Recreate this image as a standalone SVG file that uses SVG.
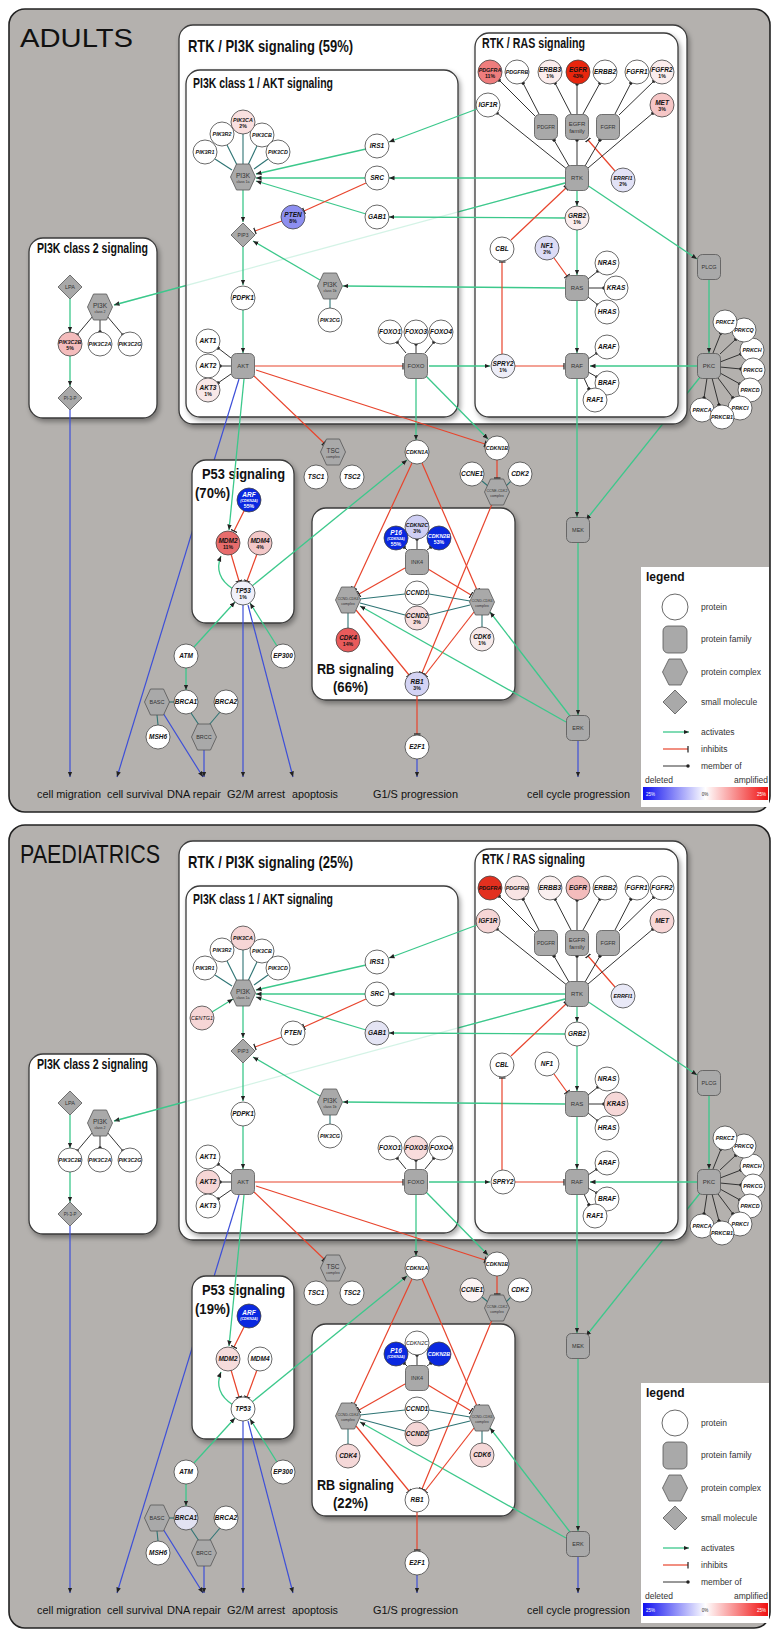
<svg xmlns="http://www.w3.org/2000/svg" width="772" height="1632" viewBox="0 0 772 1632">
<defs>
<style>
text{font-family:"Liberation Sans",Arial,Helvetica,sans-serif}
.g,.r,.b,.k,.t{fill:none;stroke-width:1.3}
.g{stroke:#3cc88b}
.r{stroke:#e8442c;stroke-width:1.2}
.b{stroke:#3d4fd8;stroke-width:1.2}
.k{stroke:#333;stroke-width:1}
.t{stroke:#2e7474;stroke-width:1.1}
.a{marker-end:url(#arr)}
.i{marker-end:url(#bar)}
.m{marker-end:url(#dot)}
.panel{fill:#b4b1ae;stroke:#222;stroke-width:1.6}
.bx{fill:#fff;stroke:#3a3a3a;stroke-width:1.3}
.c{fill:#fff;stroke:#444;stroke-width:.8}
.f{fill:#a9a9a9;stroke:#555;stroke-width:.8}
.n{font-size:6.5px;font-weight:bold;font-style:italic;text-anchor:middle;fill:#111}
.s{font-size:5.4px}
.pc{font-size:5.2px;font-weight:bold;text-anchor:middle;fill:#111}
.fl{font-size:6px;text-anchor:middle;fill:#333}
.xs{font-size:3.6px}
.wt{fill:#fff}
.h1{font-size:17px;font-weight:bold;fill:#111}
.h3{font-size:15px;font-weight:bold;fill:#111}
.h2{font-size:14px;font-weight:bold;fill:#111}
.out{font-size:11.5px;fill:#111}
.lg{font-size:8.5px;fill:#333}
.big{font-size:26px;fill:#111}
</style>
<marker id="arr" viewBox="0 0 6 6" refX="6" refY="3" markerWidth="5.5" markerHeight="5.5" orient="auto" markerUnits="userSpaceOnUse"><path d="M0,0.5L6,3L0,5.5z" fill="#222"/></marker>
<marker id="bar" viewBox="0 0 2 8" refX="1" refY="4" markerWidth="2" markerHeight="7" orient="auto" markerUnits="userSpaceOnUse"><path d="M1,0V8" stroke="#222" stroke-width="1.4"/></marker>
<marker id="dot" viewBox="0 0 4 4" refX="2" refY="2" markerWidth="3.5" markerHeight="3.5" orient="auto" markerUnits="userSpaceOnUse"><circle cx="2" cy="2" r="2" fill="#222"/></marker>
<filter id="sh" x="-5%" y="-5%" width="115%" height="115%"><feDropShadow dx="2" dy="3" stdDeviation="2.5" flood-color="#000" flood-opacity="0.35"/></filter>
<linearGradient id="cb"><stop offset="0" stop-color="#1010f0"/><stop offset=".5" stop-color="#fff"/><stop offset="1" stop-color="#f01010"/></linearGradient>
<g id="L0"><path class="g a" d="M701,376L586,520"/></g>
<g id="L1">
<rect class="bx" x="179" y="25" width="508" height="399" rx="14" filter="url(#sh)"/>
<rect class="bx" x="475" y="33" width="203" height="384" rx="14" filter="url(#sh)"/>
<rect class="bx" x="29" y="238" width="128" height="180" rx="14" filter="url(#sh)"/>
</g>
<g id="L2"><path class="g a" d="M565,183L114,305"/></g>
<g id="L3"><rect class="bx" x="186" y="70" width="272" height="347" rx="14" filter="url(#sh)"/><path d="M565,183L114,305" fill="none" stroke="#3cc88b" stroke-width="1.3" stroke-opacity=".22"/></g>
<g id="L4"><path class="b a" d="M239,379L117,777"/></g>
<g id="L5">
<rect class="bx" x="192" y="460" width="102" height="163" rx="14" filter="url(#sh)"/>
<rect class="bx" x="312" y="508" width="203" height="192" rx="14" filter="url(#sh)"/>
</g>
<g id="links">
<path class="g a" d="M477,109L389,142"/>
<path class="g a" d="M366,149L256,174"/>
<path class="g a" d="M565,178L389,178"/>
<path class="g a" d="M365,178L256,178"/>
<path class="g a" d="M565,218L389,217"/>
<path class="g a" d="M366,214L256,181"/>
<path class="g a" d="M243,190L243,222"/>
<path class="g a" d="M320,280L253,241"/>
<path class="g a" d="M565,288L343,286"/>
<path class="g a" d="M243,247L243,285"/>
<path class="g a" d="M243,310L243,353"/>
<path class="g a" d="M429,366L490,366"/>
<path class="g a" d="M416,379L416,440"/>
<path class="g a" d="M425,375L488,439"/>
<path class="g a" d="M244,379L229,530"/>
<path class="g a" d="M577,191L577,206"/>
<path class="g a" d="M577,230L577,275"/>
<path class="g a" d="M577,301L577,353"/>
<path class="g a" d="M697,366L590,366"/>
<path class="g a" d="M709,280L709,353"/>
<path class="g a" d="M587,185L697,259"/>
<path class="g a" d="M577,379L577,517"/>
<path class="g a" d="M578,543L578,715"/>
<path class="g a" d="M566,722L360,606"/>
<path class="g a" d="M570,716L490,612"/>
<path class="g a" d="M70,299L70,332"/>
<path class="g a" d="M70,356L70,386"/>
<path class="g a" d="M252,586L407,460"/>
<path class="g a" d="M233,589Q213,576 221,556"/>
<path class="g a" d="M194,647L235,602"/>
<path class="g a" d="M277,646L250,603"/>
<path class="g a" d="M186,668L186,690"/>
<path class="r i" d="M366,183L304,211"/>
<path class="r i" d="M282,221L255,231"/>
<path class="r i" d="M255,366L403,366"/>
<path class="r i" d="M254,376L324,443"/>
<path class="r i" d="M256,370L485,444"/>
<path class="r i" d="M515,366L564,366"/>
<path class="r i" d="M502,354L502,262"/>
<path class="r i" d="M511,240L566,188"/>
<path class="r i" d="M554,258L567,276"/>
<path class="r i" d="M615,171L588,140"/>
<path class="r i" d="M412,463L354,588"/>
<path class="r i" d="M422,463L477,590"/>
<path class="r i" d="M405,568L359,594"/>
<path class="r i" d="M428,569L471,595"/>
<path class="r i" d="M356,610L409,675"/>
<path class="r i" d="M474,612L425,675"/>
<path class="r i" d="M492,504L422,673"/>
<path class="r i" d="M497,460L497,478"/>
<path class="r i" d="M231,554L239,581"/>
<path class="r i" d="M257,554L247,581"/>
<path class="r i" d="M244,511L234,531"/>
<path class="r i" d="M417,696L417,734"/>
<path class="b a" d="M70,410L70,777"/>
<path class="b a" d="M243,605L243,777"/>
<path class="b a" d="M248,605L293,777"/>
<path class="b a" d="M163,713L203,777"/>
<path class="b a" d="M204,750L204,777"/>
<path class="b a" d="M417,759L417,777"/>
<path class="b a" d="M578,741L578,777"/>
<path class="k m" d="M568,170L497,113"/>
<path class="k m" d="M569,166L554,140"/>
<path class="k m" d="M577,165L577,140"/>
<path class="k m" d="M585,166L600,140"/>
<path class="k m" d="M588,168L653,113"/>
<path class="k m" d="M535,116L499,80"/>
<path class="k m" d="M539,114L523,83"/>
<path class="k m" d="M571,114L555,83"/>
<path class="k m" d="M577,114L577,84"/>
<path class="k m" d="M583,114L600,83"/>
<path class="k m" d="M615,114L631,83"/>
<path class="k m" d="M619,115L654,81"/>
<path class="k m" d="M588,279L598,271"/>
<path class="k m" d="M589,288L604,288"/>
<path class="k m" d="M588,297L598,305"/>
<path class="k m" d="M588,359L597,353"/>
<path class="k m" d="M588,372L597,377"/>
<path class="k m" d="M584,378L589,389"/>
<path class="k m" d="M231,358L218,348"/>
<path class="k m" d="M231,366L220,366"/>
<path class="k m" d="M231,374L218,383"/>
<path class="k m" d="M406,353L397,342"/>
<path class="k m" d="M416,353L416,344"/>
<path class="k m" d="M425,353L434,342"/>
<path class="k m" d="M713,353L721,333"/>
<path class="k m" d="M720,354L736,339"/>
<path class="k m" d="M720,362L741,354"/>
<path class="k m" d="M720,367L741,369"/>
<path class="k m" d="M720,373L740,384"/>
<path class="k m" d="M718,378L733,398"/>
<path class="k m" d="M712,378L719,405"/>
<path class="k m" d="M707,378L704,398"/>
<path class="k m" d="M93,316L77,335"/>
<path class="k m" d="M100,320L100,332"/>
<path class="k m" d="M107,316L123,335"/>
<path class="k m" d="M417,549L417,539"/>
<path class="k m" d="M407,550L404,547"/>
<path class="k m" d="M427,550L431,547"/>
<path class="t" d="M232,170L215,159"/>
<path class="t" d="M237,165L227,145"/>
<path class="t" d="M243,164L243,134"/>
<path class="t" d="M248,165L257,146"/>
<path class="t" d="M254,169L268,159"/>
<path class="t" d="M330,299L330,308"/>
<path class="t" d="M488,486L482,481"/>
<path class="t" d="M506,486L511,481"/>
<path class="t" d="M360,599L405,594"/>
<path class="t" d="M360,603L405,615"/>
<path class="t" d="M470,601L429,594"/>
<path class="t" d="M470,605L429,615"/>
<path class="t" d="M348,613L348,628"/>
<path class="t" d="M482,615L482,627"/>
<path class="t" d="M169,702L174,702"/>
<path class="t" d="M157,715L158,725"/>
<path class="t" d="M199,725L191,713"/>
<path class="t" d="M209,725L220,712"/>
</g>
</defs>
<rect width="772" height="1632" fill="#fff"/>

<g id="adults">
<rect class="panel" x="9" y="9" width="761" height="803" rx="16"/>
<text class="big" x="20" y="47" textLength="113" lengthAdjust="spacingAndGlyphs">ADULTS</text>
<use href="#L0"/><use href="#L1"/><use href="#L2"/><use href="#L3"/><use href="#L4"/><use href="#L5"/>
<g id="a_titles">
<text class="h1" x="188" y="52" textLength="165" lengthAdjust="spacingAndGlyphs">RTK / PI3K signaling  (59%)</text>
<text class="h2" x="193" y="88" textLength="140" lengthAdjust="spacingAndGlyphs">PI3K class 1 / AKT signaling</text>
<text class="h2" x="482" y="48" textLength="103" lengthAdjust="spacingAndGlyphs">RTK / RAS signaling</text>
<text class="h2" x="37" y="253" textLength="111" lengthAdjust="spacingAndGlyphs">PI3K class 2 signaling</text>
<text class="h3" x="202" y="479" textLength="83" lengthAdjust="spacingAndGlyphs">P53 signaling</text>
<text class="h3" x="195" y="498" textLength="35" lengthAdjust="spacingAndGlyphs">(70%)</text>
<text class="h3" x="317" y="674" textLength="77" lengthAdjust="spacingAndGlyphs">RB signaling</text>
<text class="h3" x="333" y="692" textLength="35" lengthAdjust="spacingAndGlyphs">(66%)</text>
</g>
<g id="a_connectors"><use href="#links"/></g>
<g id="a_nodes">
<g id="a_LPA" transform="translate(70,287)"><polygon class="f" points="0,-12 12,0 0,12 -12,0"/><text class="fl" y="2" style="font-size:5.5px">LPA</text></g>
<g id="a_PI3Kc2" transform="translate(100,307)"><polygon class="f" points="-12.5,0 -6.5,-13 6.5,-13 12.5,0 6.5,13 -6.5,13"/><text class="fl" y="1" style="font-size:6.5px">PI3K</text><text class="fl xs" y="6">class 2</text></g>
<g id="a_PIK3C2B" transform="translate(70,344)"><circle class="c" r="12" style="fill:#f4bcbc"/><text class="n s" y="-0.5">PIK3C2B</text><text class="pc" y="6">5%</text></g>
<g id="a_PIK3C2A" transform="translate(100,344)"><circle class="c" r="12"/><text class="n s" y="2">PIK3C2A</text></g>
<g id="a_PIK3C2G" transform="translate(130,344)"><circle class="c" r="12"/><text class="n s" y="2">PIK3C2G</text></g>
<g id="a_PI3P" transform="translate(70,398)"><polygon class="f" points="0,-12 12,0 0,12 -12,0"/><text class="fl" y="1.5" style="font-size:4.5px">PI-3-P</text></g>
<g id="a_PIK3R1" transform="translate(205,152)"><circle class="c" r="12"/><text class="n s" y="2">PIK3R1</text></g>
<g id="a_PIK3R2" transform="translate(222,134)"><circle class="c" r="12"/><text class="n s" y="2">PIK3R2</text></g>
<g id="a_PIK3CB" transform="translate(262,135)"><circle class="c" r="12"/><text class="n s" y="2">PIK3CB</text></g>
<g id="a_PIK3CD" transform="translate(278,152)"><circle class="c" r="12"/><text class="n s" y="2">PIK3CD</text></g>
<g id="a_PIK3CA" transform="translate(243,122)"><circle class="c" r="12" style="fill:#f9e0e0"/><text class="n s" y="-0.5">PIK3CA</text><text class="pc" y="6">2%</text></g>
<g id="a_PI3K1a" transform="translate(243,177)"><polygon class="f" points="-12.5,0 -6.5,-13 6.5,-13 12.5,0 6.5,13 -6.5,13"/><text class="fl" y="1" style="font-size:6.5px">PI3K</text><text class="fl xs" y="6">class 1a</text></g>
<g id="a_IRS1" transform="translate(377,146)"><circle class="c" r="12"/><text class="n" y="2">IRS1</text></g>
<g id="a_SRC" transform="translate(377,178)"><circle class="c" r="12"/><text class="n" y="2">SRC</text></g>
<g id="a_GAB1" transform="translate(377,217)"><circle class="c" r="12"/><text class="n" y="2">GAB1</text></g>
<g id="a_PTEN" transform="translate(293,217)"><circle class="c" r="12" style="fill:#8d8ff0"/><text class="n" y="-0.5">PTEN</text><text class="pc" y="6">8%</text></g>
<g id="a_PIP3" transform="translate(243,235)"><polygon class="f" points="0,-12 12,0 0,12 -12,0"/><text class="fl" y="1.5" style="font-size:5px">PIP3</text></g>
<g id="a_PI3K1b" transform="translate(330,286)"><polygon class="f" points="-12.5,0 -6.5,-13 6.5,-13 12.5,0 6.5,13 -6.5,13"/><text class="fl" y="1" style="font-size:6.5px">PI3K</text><text class="fl xs" y="6">class 1b</text></g>
<g id="a_PIK3CG" transform="translate(330,320)"><circle class="c" r="12"/><text class="n s" y="2">PIK3CG</text></g>
<g id="a_PDPK1" transform="translate(243,298)"><circle class="c" r="12"/><text class="n" y="2">PDPK1</text></g>
<g id="a_AKT1" transform="translate(208,341)"><circle class="c" r="12"/><text class="n" y="2">AKT1</text></g>
<g id="a_AKT2" transform="translate(208,366)"><circle class="c" r="12"/><text class="n" y="2">AKT2</text></g>
<g id="a_AKT3" transform="translate(208,390)"><circle class="c" r="12" style="fill:#f8e8e8"/><text class="n" y="-0.5">AKT3</text><text class="pc" y="6">1%</text></g>
<g id="a_AKT" transform="translate(243,366)"><rect class="f" x="-11.5" y="-12.5" width="23" height="25" rx="5"/><text class="fl" y="2">AKT</text></g>
<g id="a_FOXO1" transform="translate(390,332)"><circle class="c" r="12"/><text class="n" y="2">FOXO1</text></g>
<g id="a_FOXO3" transform="translate(416,332)"><circle class="c" r="12"/><text class="n" y="2">FOXO3</text></g>
<g id="a_FOXO4" transform="translate(441,332)"><circle class="c" r="12"/><text class="n" y="2">FOXO4</text></g>
<g id="a_FOXO" transform="translate(416,366)"><rect class="f" x="-11.5" y="-12.5" width="23" height="25" rx="5"/><text class="fl" y="2">FOXO</text></g>
<g id="a_PDGFRA" transform="translate(490,72)"><circle class="c" r="12" style="fill:#ef7d7d"/><text class="n s" y="-0.5">PDGFRA</text><text class="pc" y="6">11%</text></g>
<g id="a_PDGFRB" transform="translate(517,72)"><circle class="c" r="12"/><text class="n s" y="2">PDGFRB</text></g>
<g id="a_ERBB3" transform="translate(550,72)"><circle class="c" r="12" style="fill:#fbeded"/><text class="n" y="-0.5">ERBB3</text><text class="pc" y="6">1%</text></g>
<g id="a_EGFR" transform="translate(578,72)"><circle class="c" r="12" style="fill:#e8260e"/><text class="n" y="-0.5">EGFR</text><text class="pc" y="6">43%</text></g>
<g id="a_ERBB2" transform="translate(605,72)"><circle class="c" r="12"/><text class="n" y="2">ERBB2</text></g>
<g id="a_FGFR1" transform="translate(637,72)"><circle class="c" r="12"/><text class="n" y="2">FGFR1</text></g>
<g id="a_FGFR2" transform="translate(662,72)"><circle class="c" r="12" style="fill:#fbeded"/><text class="n" y="-0.5">FGFR2</text><text class="pc" y="6">1%</text></g>
<g id="a_IGF1R" transform="translate(488,105)"><circle class="c" r="12"/><text class="n" y="2">IGF1R</text></g>
<g id="a_MET" transform="translate(662,105)"><circle class="c" r="12" style="fill:#f6c6c6"/><text class="n" y="-0.5">MET</text><text class="pc" y="6">3%</text></g>
<g id="a_PDGFR" transform="translate(546,127)"><rect class="f" x="-11.5" y="-12.5" width="23" height="25" rx="5"/><text class="fl" y="2" style="font-size:5.2px">PDGFR</text></g>
<g id="a_EGFRfam" transform="translate(577,127)"><rect class="f" x="-11.5" y="-12.5" width="23" height="25" rx="5"/><text class="fl" y="-1">EGFR</text><text class="fl" y="6">family</text></g>
<g id="a_FGFR" transform="translate(608,127)"><rect class="f" x="-11.5" y="-12.5" width="23" height="25" rx="5"/><text class="fl" y="2" style="font-size:5.5px">FGFR</text></g>
<g id="a_RTK" transform="translate(577,178)"><rect class="f" x="-11.5" y="-12.5" width="23" height="25" rx="5"/><text class="fl" y="2">RTK</text></g>
<g id="a_ERRFI1" transform="translate(623,180)"><circle class="c" r="12" style="fill:#e2e2f6"/><text class="n s" y="-0.5">ERRFI1</text><text class="pc" y="6">2%</text></g>
<g id="a_GRB2" transform="translate(577,218)"><circle class="c" r="12" style="fill:#faeeee"/><text class="n" y="-0.5">GRB2</text><text class="pc" y="6">1%</text></g>
<g id="a_CBL" transform="translate(502,249)"><circle class="c" r="12"/><text class="n" y="2">CBL</text></g>
<g id="a_NF1" transform="translate(547,248)"><circle class="c" r="12" style="fill:#dcdcf6"/><text class="n" y="-0.5">NF1</text><text class="pc" y="6">2%</text></g>
<g id="a_NRAS" transform="translate(607,263)"><circle class="c" r="12"/><text class="n" y="2">NRAS</text></g>
<g id="a_RAS" transform="translate(577,288)"><rect class="f" x="-11.5" y="-12.5" width="23" height="25" rx="5"/><text class="fl" y="2">RAS</text></g>
<g id="a_KRAS" transform="translate(616,288)"><circle class="c" r="12"/><text class="n" y="2">KRAS</text></g>
<g id="a_HRAS" transform="translate(607,312)"><circle class="c" r="12"/><text class="n" y="2">HRAS</text></g>
<g id="a_ARAF" transform="translate(607,347)"><circle class="c" r="12"/><text class="n" y="2">ARAF</text></g>
<g id="a_RAF" transform="translate(577,366)"><rect class="f" x="-11.5" y="-12.5" width="23" height="25" rx="5"/><text class="fl" y="2">RAF</text></g>
<g id="a_BRAF" transform="translate(607,383)"><circle class="c" r="12"/><text class="n" y="2">BRAF</text></g>
<g id="a_RAF1" transform="translate(595,400)"><circle class="c" r="12"/><text class="n" y="2">RAF1</text></g>
<g id="a_SPRY2" transform="translate(503,366)"><circle class="c" r="12" style="fill:#eeeef8"/><text class="n" y="-0.5">SPRY2</text><text class="pc" y="6">1%</text></g>
<g id="a_PLCG" transform="translate(709,267)"><rect class="f" x="-11.5" y="-12.5" width="23" height="25" rx="5"/><text class="fl" y="2" style="font-size:5.5px">PLCG</text></g>
<g id="a_PKC" transform="translate(709,366)"><rect class="f" x="-11.5" y="-12.5" width="23" height="25" rx="5"/><text class="fl" y="2">PKC</text></g>
<g id="a_PRKCH" transform="translate(752,350)"><circle class="c" r="12"/><text class="n s" y="2">PRKCH</text></g>
<g id="a_PRKCG" transform="translate(753,370)"><circle class="c" r="12"/><text class="n s" y="2">PRKCG</text></g>
<g id="a_PRKCD" transform="translate(750,390)"><circle class="c" r="12"/><text class="n s" y="2">PRKCD</text></g>
<g id="a_PRKCI" transform="translate(740,408)"><circle class="c" r="12"/><text class="n s" y="2">PRKCI</text></g>
<g id="a_PRKCQ" transform="translate(744,330)"><circle class="c" r="12"/><text class="n s" y="2">PRKCQ</text></g>
<g id="a_PRKCZ" transform="translate(725,322)"><circle class="c" r="12"/><text class="n s" y="2">PRKCZ</text></g>
<g id="a_PRKCA" transform="translate(702,410)"><circle class="c" r="12"/><text class="n s" y="2">PRKCA</text></g>
<g id="a_PRKCB1" transform="translate(722,417)"><circle class="c" r="12"/><text class="n s" y="2">PRKCB1</text></g>
<g id="a_MEK" transform="translate(578,530)"><rect class="f" x="-11.5" y="-12.5" width="23" height="25" rx="5"/><text class="fl" y="2" style="font-size:5.5px">MEK</text></g>
<g id="a_ERK" transform="translate(578,728)"><rect class="f" x="-11.5" y="-12.5" width="23" height="25" rx="5"/><text class="fl" y="2" style="font-size:5.5px">ERK</text></g>
<g id="a_TSC" transform="translate(333,452)"><polygon class="f" points="-12.5,0 -6.5,-13 6.5,-13 12.5,0 6.5,13 -6.5,13"/><text class="fl" y="1" style="font-size:6.5px">TSC</text><text class="fl xs" y="6">complex</text></g>
<g id="a_TSC1" transform="translate(316,477)"><circle class="c" r="12"/><text class="n" y="2">TSC1</text></g>
<g id="a_TSC2" transform="translate(352,477)"><circle class="c" r="12"/><text class="n" y="2">TSC2</text></g>
<g id="a_CDKN1A" transform="translate(417,452)"><circle class="c" r="12"/><text class="n s" y="2">CDKN1A</text></g>
<g id="a_CDKN1B" transform="translate(497,448)"><circle class="c" r="12"/><text class="n s" y="2">CDKN1B</text></g>
<g id="a_CCNE1" transform="translate(472,474)"><circle class="c" r="12"/><text class="n" y="2">CCNE1</text></g>
<g id="a_CDK2" transform="translate(520,474)"><circle class="c" r="12"/><text class="n" y="2">CDK2</text></g>
<g id="a_CycE" transform="translate(497,492)"><polygon class="f" points="-12.5,0 -6.5,-13 6.5,-13 12.5,0 6.5,13 -6.5,13"/><text class="fl xs" y="0">CCNE-CDK2</text><text class="fl xs" y="4.5">complex</text></g>
<g id="a_ARF" transform="translate(249,500)"><circle class="c" r="12" style="fill:#0a28e0"/><text class="n wt" y="-3">ARF</text><text class="n xs wt" y="1.5">(CDKN2A)</text><text class="pc wt" y="7.5">55%</text></g>
<g id="a_MDM2" transform="translate(228,543)"><circle class="c" r="12" style="fill:#e86c6c"/><text class="n" y="-0.5">MDM2</text><text class="pc" y="6">11%</text></g>
<g id="a_MDM4" transform="translate(260,543)"><circle class="c" r="12" style="fill:#f3c8c8"/><text class="n" y="-0.5">MDM4</text><text class="pc" y="6">4%</text></g>
<g id="a_TP53" transform="translate(243,593)"><circle class="c" r="12" style="fill:#f0f0fa"/><text class="n" y="-0.5">TP53</text><text class="pc" y="6">1%</text></g>
<g id="a_ATM" transform="translate(186,656)"><circle class="c" r="12"/><text class="n" y="2">ATM</text></g>
<g id="a_EP300" transform="translate(283,656)"><circle class="c" r="12"/><text class="n" y="2">EP300</text></g>
<g id="a_BASC" transform="translate(157,702)"><polygon class="f" points="-12.5,0 -6.5,-13 6.5,-13 12.5,0 6.5,13 -6.5,13"/><text class="fl" y="2" style="font-size:5.5px">BASC</text></g>
<g id="a_BRCA1" transform="translate(186,702)"><circle class="c" r="12"/><text class="n" y="2">BRCA1</text></g>
<g id="a_BRCA2" transform="translate(226,702)"><circle class="c" r="12"/><text class="n" y="2">BRCA2</text></g>
<g id="a_MSH6" transform="translate(158,737)"><circle class="c" r="12"/><text class="n" y="2">MSH6</text></g>
<g id="a_BRCC" transform="translate(204,737)"><polygon class="f" points="-12.5,0 -6.5,-13 6.5,-13 12.5,0 6.5,13 -6.5,13"/><text class="fl" y="2" style="font-size:5.5px">BRCC</text></g>
<g id="a_CDKN2C" transform="translate(417,527)"><circle class="c" r="12" style="fill:#cfcff4"/><text class="n s" y="-0.5">CDKN2C</text><text class="pc" y="6">3%</text></g>
<g id="a_P16" transform="translate(396,538)"><circle class="c" r="12" style="fill:#0a28e0"/><text class="n wt" y="-3">P16</text><text class="n xs wt" y="1.5">(CDKN2A)</text><text class="pc wt" y="7.5">55%</text></g>
<g id="a_CDKN2B" transform="translate(439,538)"><circle class="c" r="12" style="fill:#0a28e0"/><text class="n s wt" y="-0.5">CDKN2B</text><text class="pc wt" y="6">53%</text></g>
<g id="a_INK4" transform="translate(417,562)"><rect class="f" x="-11.5" y="-12.5" width="23" height="25" rx="5"/><text class="fl" y="2" style="font-size:5.5px">INK4</text></g>
<g id="a_CCND1" transform="translate(417,593)"><circle class="c" r="12"/><text class="n" y="2">CCND1</text></g>
<g id="a_CCND2" transform="translate(417,618)"><circle class="c" r="12" style="fill:#f6dede"/><text class="n" y="-0.5">CCND2</text><text class="pc" y="6">2%</text></g>
<g id="a_CycD4" transform="translate(348,600)"><polygon class="f" points="-12.5,0 -6.5,-13 6.5,-13 12.5,0 6.5,13 -6.5,13"/><text class="fl xs" y="0">CCND-CDK4</text><text class="fl xs" y="4.5">complex</text></g>
<g id="a_CycD6" transform="translate(482,602)"><polygon class="f" points="-12.5,0 -6.5,-13 6.5,-13 12.5,0 6.5,13 -6.5,13"/><text class="fl xs" y="0">CCND-CDK6</text><text class="fl xs" y="4.5">complex</text></g>
<g id="a_CDK4" transform="translate(348,640)"><circle class="c" r="12" style="fill:#e85b5b"/><text class="n" y="-0.5">CDK4</text><text class="pc" y="6">14%</text></g>
<g id="a_CDK6" transform="translate(482,639)"><circle class="c" r="12" style="fill:#f7eaea"/><text class="n" y="-0.5">CDK6</text><text class="pc" y="6">1%</text></g>
<g id="a_RB1" transform="translate(417,684)"><circle class="c" r="12" style="fill:#d3d3f4"/><text class="n" y="-0.5">RB1</text><text class="pc" y="6">3%</text></g>
<g id="a_E2F1" transform="translate(417,747)"><circle class="c" r="12"/><text class="n" y="2">E2F1</text></g>
</g>
<g id="a_outcomes">
<text class="out" x="37" y="798" textLength="64" lengthAdjust="spacingAndGlyphs">cell migration</text>
<text class="out" x="107" y="798" textLength="56" lengthAdjust="spacingAndGlyphs">cell survival</text>
<text class="out" x="167" y="798" textLength="54" lengthAdjust="spacingAndGlyphs">DNA repair</text>
<text class="out" x="227" y="798" textLength="58" lengthAdjust="spacingAndGlyphs">G2/M arrest</text>
<text class="out" x="292" y="798" textLength="46" lengthAdjust="spacingAndGlyphs">apoptosis</text>
<text class="out" x="373" y="798" textLength="85" lengthAdjust="spacingAndGlyphs">G1/S progression</text>
<text class="out" x="527" y="798" textLength="103" lengthAdjust="spacingAndGlyphs">cell cycle progression</text>
</g>
<g id="a_legend">
<rect x="641" y="567" width="128" height="240" fill="#fff"/>
<text x="646" y="581" style="font-size:12px;font-weight:bold;fill:#111">legend</text>
<circle class="c" cx="675" cy="607" r="13"/><text class="lg" x="701" y="610">protein</text>
<rect class="f" x="663" y="626" width="24" height="27" rx="5"/><text class="lg" x="701" y="642">protein family</text>
<polygon class="f" points="662.5,672 669,659 681,659 687.5,672 681,685 669,685"/><text class="lg" x="701" y="675">protein complex</text>
<polygon class="f" points="675,690 687,702 675,714 663,702"/><text class="lg" x="701" y="705">small molecule</text>
<path class="g a" d="M663,732H689"/><text class="lg" x="701" y="735">activates</text>
<path class="r i" d="M663,749H688"/><text class="lg" x="701" y="752">inhibits</text>
<path class="k m" d="M663,766H688"/><text class="lg" x="701" y="769">member of</text>
<text class="lg" x="645" y="783">deleted</text>
<text class="lg" x="768" y="783" text-anchor="end">amplified</text>
<rect x="643" y="787" width="125" height="13" fill="url(#cb)"/>
<text x="646" y="795.5" style="font-size:4.5px;fill:#fff">25%</text>
<text x="705" y="795.5" style="font-size:4.5px;fill:#333;text-anchor:middle">0%</text>
<text x="766" y="795.5" style="font-size:4.5px;fill:#fff;text-anchor:end">25%</text>
</g>
</g>

<g id="paediatrics" transform="translate(0,816)">
<rect class="panel" x="9" y="9" width="761" height="803" rx="16"/>
<text class="big" x="20" y="47" textLength="140" lengthAdjust="spacingAndGlyphs">PAEDIATRICS</text>
<use href="#L0"/><use href="#L1"/><use href="#L2"/><use href="#L3"/><use href="#L4"/><use href="#L5"/>
<g id="p_titles">
<text class="h1" x="188" y="52" textLength="165" lengthAdjust="spacingAndGlyphs">RTK / PI3K signaling  (25%)</text>
<text class="h2" x="193" y="88" textLength="140" lengthAdjust="spacingAndGlyphs">PI3K class 1 / AKT signaling</text>
<text class="h2" x="482" y="48" textLength="103" lengthAdjust="spacingAndGlyphs">RTK / RAS signaling</text>
<text class="h2" x="37" y="253" textLength="111" lengthAdjust="spacingAndGlyphs">PI3K class 2 signaling</text>
<text class="h3" x="202" y="479" textLength="83" lengthAdjust="spacingAndGlyphs">P53 signaling</text>
<text class="h3" x="195" y="498" textLength="35" lengthAdjust="spacingAndGlyphs">(19%)</text>
<text class="h3" x="317" y="674" textLength="77" lengthAdjust="spacingAndGlyphs">RB signaling</text>
<text class="h3" x="333" y="692" textLength="35" lengthAdjust="spacingAndGlyphs">(22%)</text>
</g>
<g id="p_connectors"><use href="#links"/><path class="g a" d="M212,196L233,183"/></g>
<g id="p_nodes">
<g id="p_LPA" transform="translate(70,287)"><polygon class="f" points="0,-12 12,0 0,12 -12,0"/><text class="fl" y="2" style="font-size:5.5px">LPA</text></g>
<g id="p_PI3Kc2" transform="translate(100,307)"><polygon class="f" points="-12.5,0 -6.5,-13 6.5,-13 12.5,0 6.5,13 -6.5,13"/><text class="fl" y="1" style="font-size:6.5px">PI3K</text><text class="fl xs" y="6">class 2</text></g>
<g id="p_PIK3C2B" transform="translate(70,344)"><circle class="c" r="12"/><text class="n s" y="2">PIK3C2B</text></g>
<g id="p_PIK3C2A" transform="translate(100,344)"><circle class="c" r="12"/><text class="n s" y="2">PIK3C2A</text></g>
<g id="p_PIK3C2G" transform="translate(130,344)"><circle class="c" r="12"/><text class="n s" y="2">PIK3C2G</text></g>
<g id="p_PI3P" transform="translate(70,398)"><polygon class="f" points="0,-12 12,0 0,12 -12,0"/><text class="fl" y="1.5" style="font-size:4.5px">PI-3-P</text></g>
<g id="p_PIK3R1" transform="translate(205,152)"><circle class="c" r="12"/><text class="n s" y="2">PIK3R1</text></g>
<g id="p_PIK3R2" transform="translate(222,134)"><circle class="c" r="12"/><text class="n s" y="2">PIK3R2</text></g>
<g id="p_PIK3CB" transform="translate(262,135)"><circle class="c" r="12"/><text class="n s" y="2">PIK3CB</text></g>
<g id="p_PIK3CD" transform="translate(278,152)"><circle class="c" r="12"/><text class="n s" y="2">PIK3CD</text></g>
<g id="p_PIK3CA" transform="translate(243,122)"><circle class="c" r="12" style="fill:#f7d6d6"/><text class="n s" y="2">PIK3CA</text></g>
<g id="p_PI3K1a" transform="translate(243,177)"><polygon class="f" points="-12.5,0 -6.5,-13 6.5,-13 12.5,0 6.5,13 -6.5,13"/><text class="fl" y="1" style="font-size:6.5px">PI3K</text><text class="fl xs" y="6">class 1a</text></g>
<g id="p_CENTG1" transform="translate(202,202)"><circle class="c" r="12" style="fill:#f6d6d6"/><text class="n s" y="2" style="font-weight:normal">CENTG1</text></g>
<g id="p_IRS1" transform="translate(377,146)"><circle class="c" r="12"/><text class="n" y="2">IRS1</text></g>
<g id="p_SRC" transform="translate(377,178)"><circle class="c" r="12"/><text class="n" y="2">SRC</text></g>
<g id="p_GAB1" transform="translate(377,217)"><circle class="c" r="12" style="fill:#e4e4f4"/><text class="n" y="2">GAB1</text></g>
<g id="p_PTEN" transform="translate(293,217)"><circle class="c" r="12"/><text class="n" y="2">PTEN</text></g>
<g id="p_PIP3" transform="translate(243,235)"><polygon class="f" points="0,-12 12,0 0,12 -12,0"/><text class="fl" y="1.5" style="font-size:5px">PIP3</text></g>
<g id="p_PI3K1b" transform="translate(330,286)"><polygon class="f" points="-12.5,0 -6.5,-13 6.5,-13 12.5,0 6.5,13 -6.5,13"/><text class="fl" y="1" style="font-size:6.5px">PI3K</text><text class="fl xs" y="6">class 1b</text></g>
<g id="p_PIK3CG" transform="translate(330,320)"><circle class="c" r="12"/><text class="n s" y="2">PIK3CG</text></g>
<g id="p_PDPK1" transform="translate(243,298)"><circle class="c" r="12"/><text class="n" y="2">PDPK1</text></g>
<g id="p_AKT1" transform="translate(208,341)"><circle class="c" r="12"/><text class="n" y="2">AKT1</text></g>
<g id="p_AKT2" transform="translate(208,366)"><circle class="c" r="12" style="fill:#f6d6d6"/><text class="n" y="2">AKT2</text></g>
<g id="p_AKT3" transform="translate(208,390)"><circle class="c" r="12"/><text class="n" y="2">AKT3</text></g>
<g id="p_AKT" transform="translate(243,366)"><rect class="f" x="-11.5" y="-12.5" width="23" height="25" rx="5"/><text class="fl" y="2">AKT</text></g>
<g id="p_FOXO1" transform="translate(390,332)"><circle class="c" r="12"/><text class="n" y="2">FOXO1</text></g>
<g id="p_FOXO3" transform="translate(416,332)"><circle class="c" r="12" style="fill:#f8dcdc"/><text class="n" y="2">FOXO3</text></g>
<g id="p_FOXO4" transform="translate(441,332)"><circle class="c" r="12"/><text class="n" y="2">FOXO4</text></g>
<g id="p_FOXO" transform="translate(416,366)"><rect class="f" x="-11.5" y="-12.5" width="23" height="25" rx="5"/><text class="fl" y="2">FOXO</text></g>
<g id="p_PDGFRA" transform="translate(490,72)"><circle class="c" r="12" style="fill:#e3301f"/><text class="n s" y="2">PDGFRA</text></g>
<g id="p_PDGFRB" transform="translate(517,72)"><circle class="c" r="12" style="fill:#f8e4e4"/><text class="n s" y="2">PDGFRB</text></g>
<g id="p_ERBB3" transform="translate(550,72)"><circle class="c" r="12" style="fill:#faf0f0"/><text class="n" y="2">ERBB3</text></g>
<g id="p_EGFR" transform="translate(578,72)"><circle class="c" r="12" style="fill:#f3bcbc"/><text class="n" y="2">EGFR</text></g>
<g id="p_ERBB2" transform="translate(605,72)"><circle class="c" r="12"/><text class="n" y="2">ERBB2</text></g>
<g id="p_FGFR1" transform="translate(637,72)"><circle class="c" r="12"/><text class="n" y="2">FGFR1</text></g>
<g id="p_FGFR2" transform="translate(662,72)"><circle class="c" r="12"/><text class="n" y="2">FGFR2</text></g>
<g id="p_IGF1R" transform="translate(488,105)"><circle class="c" r="12" style="fill:#f6d6d6"/><text class="n" y="2">IGF1R</text></g>
<g id="p_MET" transform="translate(662,105)"><circle class="c" r="12" style="fill:#f7d6d6"/><text class="n" y="2">MET</text></g>
<g id="p_PDGFR" transform="translate(546,127)"><rect class="f" x="-11.5" y="-12.5" width="23" height="25" rx="5"/><text class="fl" y="2" style="font-size:5.2px">PDGFR</text></g>
<g id="p_EGFRfam" transform="translate(577,127)"><rect class="f" x="-11.5" y="-12.5" width="23" height="25" rx="5"/><text class="fl" y="-1">EGFR</text><text class="fl" y="6">family</text></g>
<g id="p_FGFR" transform="translate(608,127)"><rect class="f" x="-11.5" y="-12.5" width="23" height="25" rx="5"/><text class="fl" y="2" style="font-size:5.5px">FGFR</text></g>
<g id="p_RTK" transform="translate(577,178)"><rect class="f" x="-11.5" y="-12.5" width="23" height="25" rx="5"/><text class="fl" y="2">RTK</text></g>
<g id="p_ERRFI1" transform="translate(623,180)"><circle class="c" r="12" style="fill:#e9e9f7"/><text class="n s" y="2">ERRFI1</text></g>
<g id="p_GRB2" transform="translate(577,218)"><circle class="c" r="12"/><text class="n" y="2">GRB2</text></g>
<g id="p_CBL" transform="translate(502,249)"><circle class="c" r="12"/><text class="n" y="2">CBL</text></g>
<g id="p_NF1" transform="translate(547,248)"><circle class="c" r="12"/><text class="n" y="2">NF1</text></g>
<g id="p_NRAS" transform="translate(607,263)"><circle class="c" r="12"/><text class="n" y="2">NRAS</text></g>
<g id="p_RAS" transform="translate(577,288)"><rect class="f" x="-11.5" y="-12.5" width="23" height="25" rx="5"/><text class="fl" y="2">RAS</text></g>
<g id="p_KRAS" transform="translate(616,288)"><circle class="c" r="12" style="fill:#f6d8d8"/><text class="n" y="2">KRAS</text></g>
<g id="p_HRAS" transform="translate(607,312)"><circle class="c" r="12"/><text class="n" y="2">HRAS</text></g>
<g id="p_ARAF" transform="translate(607,347)"><circle class="c" r="12"/><text class="n" y="2">ARAF</text></g>
<g id="p_RAF" transform="translate(577,366)"><rect class="f" x="-11.5" y="-12.5" width="23" height="25" rx="5"/><text class="fl" y="2">RAF</text></g>
<g id="p_BRAF" transform="translate(607,383)"><circle class="c" r="12"/><text class="n" y="2">BRAF</text></g>
<g id="p_RAF1" transform="translate(595,400)"><circle class="c" r="12"/><text class="n" y="2">RAF1</text></g>
<g id="p_SPRY2" transform="translate(503,366)"><circle class="c" r="12"/><text class="n" y="2">SPRY2</text></g>
<g id="p_PLCG" transform="translate(709,267)"><rect class="f" x="-11.5" y="-12.5" width="23" height="25" rx="5"/><text class="fl" y="2" style="font-size:5.5px">PLCG</text></g>
<g id="p_PKC" transform="translate(709,366)"><rect class="f" x="-11.5" y="-12.5" width="23" height="25" rx="5"/><text class="fl" y="2">PKC</text></g>
<g id="p_PRKCH" transform="translate(752,350)"><circle class="c" r="12"/><text class="n s" y="2">PRKCH</text></g>
<g id="p_PRKCG" transform="translate(753,370)"><circle class="c" r="12"/><text class="n s" y="2">PRKCG</text></g>
<g id="p_PRKCD" transform="translate(750,390)"><circle class="c" r="12"/><text class="n s" y="2">PRKCD</text></g>
<g id="p_PRKCI" transform="translate(740,408)"><circle class="c" r="12"/><text class="n s" y="2">PRKCI</text></g>
<g id="p_PRKCQ" transform="translate(744,330)"><circle class="c" r="12"/><text class="n s" y="2">PRKCQ</text></g>
<g id="p_PRKCZ" transform="translate(725,322)"><circle class="c" r="12"/><text class="n s" y="2">PRKCZ</text></g>
<g id="p_PRKCA" transform="translate(702,410)"><circle class="c" r="12"/><text class="n s" y="2">PRKCA</text></g>
<g id="p_PRKCB1" transform="translate(722,417)"><circle class="c" r="12"/><text class="n s" y="2">PRKCB1</text></g>
<g id="p_MEK" transform="translate(578,530)"><rect class="f" x="-11.5" y="-12.5" width="23" height="25" rx="5"/><text class="fl" y="2" style="font-size:5.5px">MEK</text></g>
<g id="p_ERK" transform="translate(578,728)"><rect class="f" x="-11.5" y="-12.5" width="23" height="25" rx="5"/><text class="fl" y="2" style="font-size:5.5px">ERK</text></g>
<g id="p_TSC" transform="translate(333,452)"><polygon class="f" points="-12.5,0 -6.5,-13 6.5,-13 12.5,0 6.5,13 -6.5,13"/><text class="fl" y="1" style="font-size:6.5px">TSC</text><text class="fl xs" y="6">complex</text></g>
<g id="p_TSC1" transform="translate(316,477)"><circle class="c" r="12"/><text class="n" y="2">TSC1</text></g>
<g id="p_TSC2" transform="translate(352,477)"><circle class="c" r="12"/><text class="n" y="2">TSC2</text></g>
<g id="p_CDKN1A" transform="translate(417,452)"><circle class="c" r="12"/><text class="n s" y="2">CDKN1A</text></g>
<g id="p_CDKN1B" transform="translate(497,448)"><circle class="c" r="12"/><text class="n s" y="2">CDKN1B</text></g>
<g id="p_CCNE1" transform="translate(472,474)"><circle class="c" r="12" style="fill:#fbf3f3"/><text class="n" y="2">CCNE1</text></g>
<g id="p_CDK2" transform="translate(520,474)"><circle class="c" r="12"/><text class="n" y="2">CDK2</text></g>
<g id="p_CycE" transform="translate(497,492)"><polygon class="f" points="-12.5,0 -6.5,-13 6.5,-13 12.5,0 6.5,13 -6.5,13"/><text class="fl xs" y="0">CCNE-CDK2</text><text class="fl xs" y="4.5">complex</text></g>
<g id="p_ARF" transform="translate(249,500)"><circle class="c" r="12" style="fill:#0a28e0"/><text class="n wt" y="-1.5">ARF</text><text class="n xs wt" y="3.5">(CDKN2A)</text></g>
<g id="p_MDM2" transform="translate(228,543)"><circle class="c" r="12" style="fill:#f6dcdc"/><text class="n" y="2">MDM2</text></g>
<g id="p_MDM4" transform="translate(260,543)"><circle class="c" r="12"/><text class="n" y="2">MDM4</text></g>
<g id="p_TP53" transform="translate(243,593)"><circle class="c" r="12"/><text class="n" y="2">TP53</text></g>
<g id="p_ATM" transform="translate(186,656)"><circle class="c" r="12"/><text class="n" y="2">ATM</text></g>
<g id="p_EP300" transform="translate(283,656)"><circle class="c" r="12"/><text class="n" y="2">EP300</text></g>
<g id="p_BASC" transform="translate(157,702)"><polygon class="f" points="-12.5,0 -6.5,-13 6.5,-13 12.5,0 6.5,13 -6.5,13"/><text class="fl" y="2" style="font-size:5.5px">BASC</text></g>
<g id="p_BRCA1" transform="translate(186,702)"><circle class="c" r="12" style="fill:#e2e2f2"/><text class="n" y="2">BRCA1</text></g>
<g id="p_BRCA2" transform="translate(226,702)"><circle class="c" r="12"/><text class="n" y="2">BRCA2</text></g>
<g id="p_MSH6" transform="translate(158,737)"><circle class="c" r="12"/><text class="n" y="2">MSH6</text></g>
<g id="p_BRCC" transform="translate(204,737)"><polygon class="f" points="-12.5,0 -6.5,-13 6.5,-13 12.5,0 6.5,13 -6.5,13"/><text class="fl" y="2" style="font-size:5.5px">BRCC</text></g>
<g id="p_CDKN2C" transform="translate(417,527)"><circle class="c" r="12"/><text class="n s" y="2" style="font-weight:normal">CDKN2C</text></g>
<g id="p_P16" transform="translate(396,538)"><circle class="c" r="12" style="fill:#0a28e0"/><text class="n wt" y="-1.5">P16</text><text class="n xs wt" y="3.5">(CDKN2A)</text></g>
<g id="p_CDKN2B" transform="translate(439,538)"><circle class="c" r="12" style="fill:#0a28e0"/><text class="n s wt" y="2">CDKN2B</text></g>
<g id="p_INK4" transform="translate(417,562)"><rect class="f" x="-11.5" y="-12.5" width="23" height="25" rx="5"/><text class="fl" y="2" style="font-size:5.5px">INK4</text></g>
<g id="p_CCND1" transform="translate(417,593)"><circle class="c" r="12"/><text class="n" y="2">CCND1</text></g>
<g id="p_CCND2" transform="translate(417,618)"><circle class="c" r="12" style="fill:#f5d6d6"/><text class="n" y="2">CCND2</text></g>
<g id="p_CycD4" transform="translate(348,600)"><polygon class="f" points="-12.5,0 -6.5,-13 6.5,-13 12.5,0 6.5,13 -6.5,13"/><text class="fl xs" y="0">CCND-CDK4</text><text class="fl xs" y="4.5">complex</text></g>
<g id="p_CycD6" transform="translate(482,602)"><polygon class="f" points="-12.5,0 -6.5,-13 6.5,-13 12.5,0 6.5,13 -6.5,13"/><text class="fl xs" y="0">CCND-CDK6</text><text class="fl xs" y="4.5">complex</text></g>
<g id="p_CDK4" transform="translate(348,640)"><circle class="c" r="12" style="fill:#f5d8d8"/><text class="n" y="2">CDK4</text></g>
<g id="p_CDK6" transform="translate(482,639)"><circle class="c" r="12" style="fill:#f5d8d8"/><text class="n" y="2">CDK6</text></g>
<g id="p_RB1" transform="translate(417,684)"><circle class="c" r="12"/><text class="n" y="2">RB1</text></g>
<g id="p_E2F1" transform="translate(417,747)"><circle class="c" r="12"/><text class="n" y="2">E2F1</text></g>
</g>
<g id="p_outcomes">
<text class="out" x="37" y="798" textLength="64" lengthAdjust="spacingAndGlyphs">cell migration</text>
<text class="out" x="107" y="798" textLength="56" lengthAdjust="spacingAndGlyphs">cell survival</text>
<text class="out" x="167" y="798" textLength="54" lengthAdjust="spacingAndGlyphs">DNA repair</text>
<text class="out" x="227" y="798" textLength="58" lengthAdjust="spacingAndGlyphs">G2/M arrest</text>
<text class="out" x="292" y="798" textLength="46" lengthAdjust="spacingAndGlyphs">apoptosis</text>
<text class="out" x="373" y="798" textLength="85" lengthAdjust="spacingAndGlyphs">G1/S progression</text>
<text class="out" x="527" y="798" textLength="103" lengthAdjust="spacingAndGlyphs">cell cycle progression</text>
</g>
<g id="p_legend">
<rect x="641" y="567" width="128" height="240" fill="#fff"/>
<text x="646" y="581" style="font-size:12px;font-weight:bold;fill:#111">legend</text>
<circle class="c" cx="675" cy="607" r="13"/><text class="lg" x="701" y="610">protein</text>
<rect class="f" x="663" y="626" width="24" height="27" rx="5"/><text class="lg" x="701" y="642">protein family</text>
<polygon class="f" points="662.5,672 669,659 681,659 687.5,672 681,685 669,685"/><text class="lg" x="701" y="675">protein complex</text>
<polygon class="f" points="675,690 687,702 675,714 663,702"/><text class="lg" x="701" y="705">small molecule</text>
<path class="g a" d="M663,732H689"/><text class="lg" x="701" y="735">activates</text>
<path class="r i" d="M663,749H688"/><text class="lg" x="701" y="752">inhibits</text>
<path class="k m" d="M663,766H688"/><text class="lg" x="701" y="769">member of</text>
<text class="lg" x="645" y="783">deleted</text>
<text class="lg" x="768" y="783" text-anchor="end">amplified</text>
<rect x="643" y="787" width="125" height="13" fill="url(#cb)"/>
<text x="646" y="795.5" style="font-size:4.5px;fill:#fff">25%</text>
<text x="705" y="795.5" style="font-size:4.5px;fill:#333;text-anchor:middle">0%</text>
<text x="766" y="795.5" style="font-size:4.5px;fill:#fff;text-anchor:end">25%</text>
</g>
</g>
</svg>
